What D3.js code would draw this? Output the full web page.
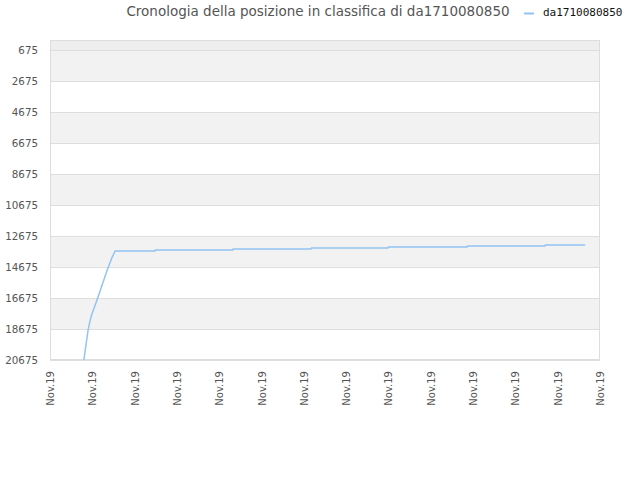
<!DOCTYPE html>
<html>
<head>
<meta charset="utf-8">
<script src="https://cdn.jsdelivr.net/npm/d3@7"></script>
<style>
  body { margin: 0; background: #fff; }
  svg { display: block; }
</style>
</head>
<body>
<div id="chart"></div>
<script>
// chart data
const titleText = "Cronologia della posizione in classifica di da1710080850";
const seriesName = "da1710080850";
const xTickLabels = ["Nov.19", "Nov.19", "Nov.19", "Nov.19", "Nov.19", "Nov.19", "Nov.19",
                     "Nov.19", "Nov.19", "Nov.19", "Nov.19", "Nov.19", "Nov.19", "Nov.19"];
const yTickValues = [675, 2675, 4675, 6675, 8675, 10675, 12675, 14675, 16675, 18675, 20675];
// position along the x axis (in tick units) and the rank at that point
const pointPos = [0.80, 0.90, 0.95, 0.98, 1.14, 1.34, 1.46, 1.54,
                  2.48, 2.49, 4.32, 4.33, 6.17, 6.18, 7.99, 8.00,
                  9.86, 9.87, 11.70, 11.71, 12.65];
const pointRank = [20675, 18750, 18100, 17800, 16580, 14970, 14100, 13640,
                   13640, 13580, 13580, 13510, 13510, 13450, 13450, 13380,
                   13380, 13320, 13320, 13255, 13255];

const W = 640, H = 480;
const margin = { top: 40, right: 40, bottom: 120, left: 50 };
const plotW = W - margin.left - margin.right;
const plotH = H - margin.top - margin.bottom;

const svg = d3.select("#chart").append("svg")
    .attr("width", W)
    .attr("height", H);

const g = svg.append("g")
    .attr("transform", `translate(${margin.left},${margin.top})`);

const x = d3.scaleLinear()
    .domain([0, xTickLabels.length - 1])
    .range([0, plotW]);

const y = d3.scaleLinear()
    .domain([30, 20675])
    .range([0, plotH]);

// alternating bands
g.append("rect")
    .attr("x", 0).attr("y", 0)
    .attr("width", plotW).attr("height", y(yTickValues[0]))
    .attr("fill", "#eeeeee");
for (let i = 0; i < yTickValues.length - 1; i++) {
    if (i % 2 === 0) {
        g.append("rect")
            .attr("x", 0)
            .attr("y", y(yTickValues[i]))
            .attr("width", plotW)
            .attr("height", y(yTickValues[i + 1]) - y(yTickValues[i]))
            .attr("fill", "#f2f2f2");
    }
}

// grid lines
g.selectAll(".grid")
    .data(yTickValues)
    .join("line")
    .attr("class", "grid")
    .attr("x1", 0).attr("x2", plotW)
    .attr("y1", d => Math.round(y(d)) + 0.5)
    .attr("y2", d => Math.round(y(d)) + 0.5)
    .attr("stroke", "#dedede")
    .attr("stroke-width", 1);

// frame
g.append("rect")
    .attr("x", 0.5).attr("y", 0.5)
    .attr("width", plotW - 1).attr("height", plotH - 1)
    .attr("fill", "none")
    .attr("stroke", "#dddddd");

// y axis labels
g.selectAll(".ylab")
    .data(yTickValues)
    .join("text")
    .attr("class", "ylab")
    .attr("x", -12)
    .attr("y", d => y(d))
    .attr("dy", "0.35em")
    .attr("text-anchor", "end")
    .attr("font-family", "DejaVu Sans, sans-serif")
    .attr("font-size", 10.3)
    .attr("fill", "#555")
    .text(d => d);

// x axis labels
const xAxis = d3.axisBottom(x)
    .tickValues(d3.range(xTickLabels.length))
    .tickFormat(i => xTickLabels[i])
    .tickSize(0);

const xg = g.append("g")
    .attr("transform", `translate(0,${plotH})`)
    .call(xAxis);
xg.select(".domain").remove();
xg.selectAll("text")
    .attr("font-family", "DejaVu Sans, sans-serif")
    .attr("font-size", 10)
    .attr("fill", "#555")
    .attr("transform", "rotate(-90)")
    .attr("text-anchor", "end")
    .attr("x", -11)
    .attr("y", 0)
    .attr("dy", "0.35em");

// series line
const pts = pointPos.map((p, i) => ({ pos: p, rank: pointRank[i] }));
g.append("path")
    .datum(pts)
    .attr("d", d3.line().x(d => x(d.pos)).y(d => y(d.rank)))
    .attr("fill", "none")
    .attr("stroke", "#92c3f2")
    .attr("stroke-width", 1.5);

// title
svg.append("text")
    .attr("x", 318)
    .attr("y", 16)
    .attr("text-anchor", "middle")
    .attr("font-family", "DejaVu Sans, sans-serif")
    .attr("font-size", 13.5)
    .attr("fill", "#555")
    .text(titleText);

// legend
svg.append("line")
    .attr("x1", 524).attr("x2", 534)
    .attr("y1", 13.5).attr("y2", 13.5)
    .attr("stroke", "#92c3f2")
    .attr("stroke-width", 2);
svg.append("text")
    .attr("x", 543)
    .attr("y", 16)
    .attr("font-family", "DejaVu Sans Mono, monospace")
    .attr("font-size", 11)
    .attr("fill", "#111")
    .text(seriesName);
</script>
</body>
</html>
